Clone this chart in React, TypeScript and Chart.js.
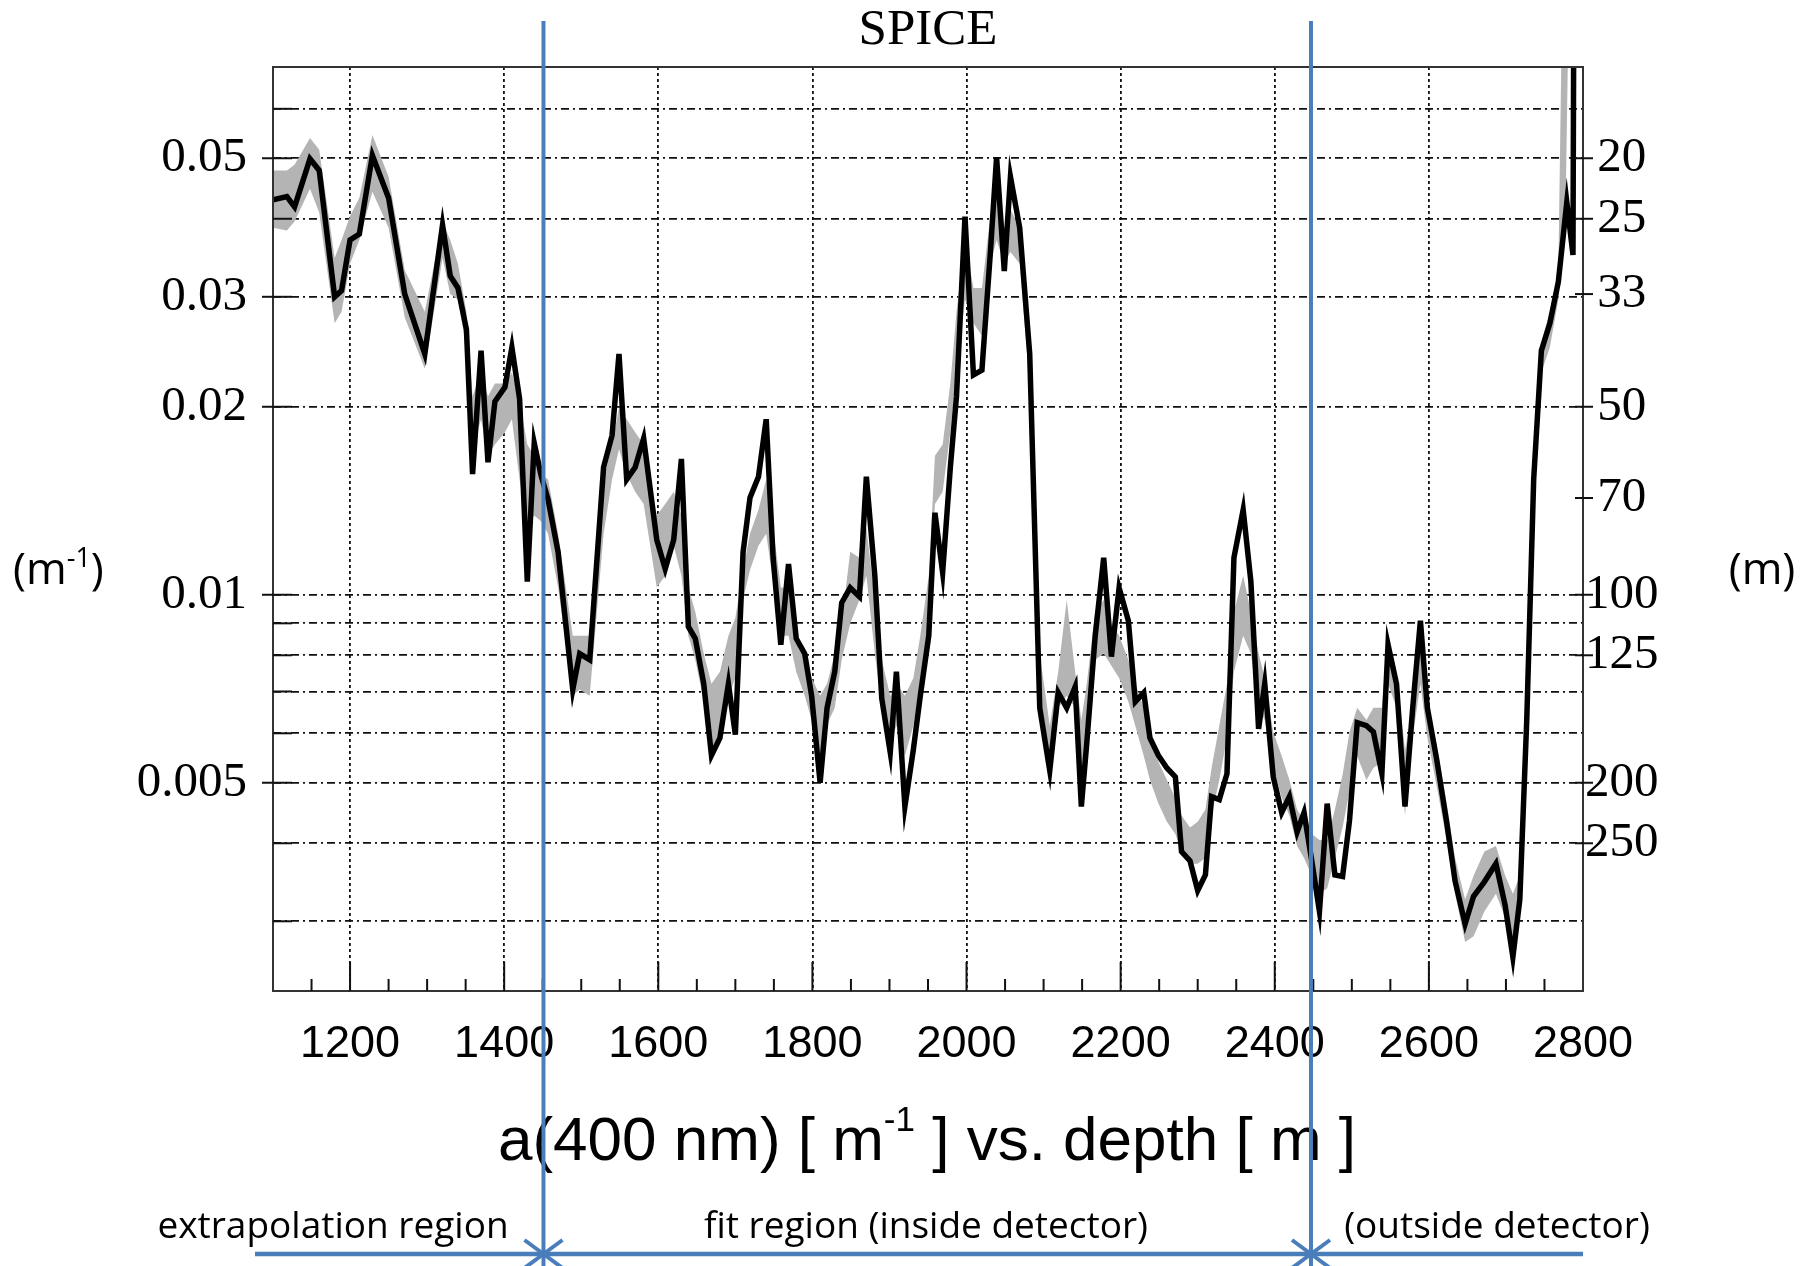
import { useEffect, useRef } from 'react';
import { Chart, registerables } from 'chart.js';

Chart.register(...registerables);

// ---------- data ----------
const depthM = [
  1100, 1118, 1128, 1148, 1160, 1180, 1189, 1200, 1212, 1229,
  1250, 1271, 1297, 1320, 1330, 1340, 1351, 1359, 1370, 1379,
  1388, 1401, 1410, 1420, 1430, 1439, 1448, 1457, 1470, 1489,
  1498, 1511, 1529, 1540, 1549, 1559, 1570, 1581, 1598, 1609,
  1620, 1630, 1639, 1648, 1659, 1669, 1680, 1691, 1700, 1710,
  1719, 1730, 1740, 1749, 1759, 1769, 1779, 1790, 1799, 1810,
  1819, 1829, 1838, 1849, 1861, 1870, 1881, 1890, 1901, 1909,
  1920, 1931, 1940, 1951, 1959, 1969, 1979, 1987, 1998, 2009,
  2020, 2031, 2039, 2049, 2057, 2069, 2082, 2095, 2108, 2119,
  2130, 2141, 2149, 2156, 2167, 2178, 2188, 2198, 2210, 2219,
  2230, 2238, 2249, 2260, 2271, 2279, 2290, 2300, 2310, 2318,
  2328, 2338, 2347, 2359, 2369, 2379, 2387, 2398, 2409, 2419,
  2429, 2438, 2448, 2458, 2468, 2478, 2488, 2497, 2507, 2519,
  2528, 2539, 2547, 2558, 2569, 2579, 2589, 2598, 2610, 2623,
  2634, 2647, 2658, 2672, 2687, 2699, 2709, 2718, 2727, 2736,
  2746, 2757, 2768, 2779, 2787, 2789,
];

const absorption = [
  0.0429, 0.0434, 0.0418, 0.0499, 0.0478, 0.0300, 0.0307, 0.0370, 0.0378, 0.0505,
  0.0432, 0.0303, 0.0243, 0.0391, 0.0324, 0.0310, 0.0266, 0.0156, 0.0246, 0.0163,
  0.0204, 0.0215, 0.0249, 0.0206, 0.0105, 0.0175, 0.0155, 0.0142, 0.0117, 0.00705,
  0.00805, 0.00787, 0.0160, 0.0180, 0.0243, 0.0153, 0.0160, 0.0178, 0.01225, 0.0110,
  0.01225, 0.0165, 0.00889, 0.00851, 0.0072, 0.00553, 0.0059, 0.0072, 0.00597, 0.0117,
  0.0143, 0.01545, 0.0191, 0.01146, 0.00832, 0.0112, 0.00851, 0.00805, 0.00689, 0.0050,
  0.00659, 0.00753, 0.00971, 0.01026, 0.00993, 0.01545, 0.01073, 0.00682, 0.00559, 0.00753,
  0.00458, 0.00565, 0.00689, 0.0086, 0.01353, 0.01085, 0.0160, 0.0208, 0.0403, 0.0225,
  0.0229, 0.0354, 0.0502, 0.0330, 0.0467, 0.0387, 0.0243, 0.00659, 0.00523, 0.00697,
  0.00659, 0.00712, 0.00458, 0.00578, 0.0086, 0.01146, 0.00796, 0.01026, 0.00909, 0.00674,
  0.00697, 0.0059, 0.00553, 0.00528, 0.00511, 0.00388, 0.00375, 0.00336, 0.00356, 0.00475,
  0.0047, 0.00517, 0.01146, 0.01368, 0.0105, 0.0061, 0.0072, 0.00511, 0.00448, 0.00475,
  0.00417, 0.00448, 0.00375, 0.00311, 0.00463, 0.00356, 0.00354, 0.00435, 0.00624, 0.00617,
  0.00603, 0.00517, 0.00832, 0.0072, 0.00458, 0.00659, 0.00909, 0.00659, 0.00546, 0.00433,
  0.00348, 0.00297, 0.00329, 0.00347, 0.00371, 0.00318, 0.00263, 0.00325, 0.0063, 0.0153,
  0.0246, 0.0272, 0.0317, 0.0425, 0.035, 0.2,
];

const bandDepthM = [
  1100, 1118, 1128, 1148, 1160, 1180, 1189, 1200, 1212, 1229,
  1250, 1271, 1297, 1320, 1330, 1340, 1351, 1359, 1370, 1379,
  1388, 1401, 1410, 1420, 1430, 1439, 1448, 1457, 1470, 1489,
  1498, 1511, 1529, 1540, 1549, 1559, 1570, 1581, 1598, 1609,
  1620, 1630, 1639, 1648, 1659, 1669, 1680, 1691, 1700, 1710,
  1719, 1730, 1740, 1749, 1759, 1769, 1779, 1790, 1799, 1810,
  1819, 1829, 1838, 1849, 1861, 1870, 1881, 1890, 1901, 1909,
  1920, 1931, 1940, 1951, 1959, 1969, 1979, 1987, 1998, 2009,
  2020, 2031, 2039, 2049, 2057, 2069, 2082, 2095, 2108, 2119,
  2130, 2141, 2149, 2156, 2167, 2178, 2188, 2198, 2210, 2219,
  2230, 2238, 2249, 2260, 2271, 2279, 2290, 2300, 2310, 2318,
  2328, 2338, 2347, 2359, 2369, 2379, 2387, 2398, 2409, 2419,
  2429, 2438, 2448, 2458, 2468, 2478, 2488, 2497, 2507, 2519,
  2528, 2539, 2547, 2558, 2569, 2579, 2589, 2598, 2610, 2623,
  2634, 2647, 2658, 2672, 2687, 2699, 2709, 2718, 2727, 2736,
  2746, 2757, 2768, 2777, 2786,
];

const bandHigh = [
  0.0478, 0.0478, 0.0488, 0.0539, 0.0516, 0.0346, 0.0370, 0.0404, 0.0432, 0.0545,
  0.0467, 0.0331, 0.0284, 0.0396, 0.0370, 0.0339, 0.0284, 0.0208, 0.0227, 0.0208,
  0.0218, 0.0218, 0.0227, 0.0204, 0.0174, 0.0167, 0.0156, 0.0153, 0.01252, 0.0086,
  0.0086, 0.0086, 0.0153, 0.0174, 0.0199, 0.0191, 0.0182, 0.0174, 0.0134, 0.01398,
  0.01462, 0.0134, 0.01027, 0.00939, 0.00805, 0.0072, 0.00753, 0.0086, 0.00919, 0.01096,
  0.01252, 0.01368, 0.0153, 0.0128, 0.01027, 0.01027, 0.0086, 0.00787, 0.00736, 0.00689,
  0.0072, 0.00805, 0.00899, 0.01172, 0.01146, 0.0128, 0.00982, 0.00787, 0.00689, 0.0072,
  0.00689, 0.00736, 0.0086, 0.01073, 0.0167, 0.0174, 0.0218, 0.0284, 0.0370, 0.031,
  0.031, 0.0404, 0.0462, 0.0387, 0.0414, 0.0387, 0.0249, 0.00805, 0.00617, 0.00753,
  0.00982, 0.00753, 0.0063, 0.0072, 0.00939, 0.00982, 0.00899, 0.0086, 0.00787, 0.0072,
  0.00659, 0.00603, 0.0054, 0.00505, 0.00473, 0.00443, 0.00424, 0.00433, 0.00453, 0.00528,
  0.00617, 0.0072, 0.00939, 0.01073, 0.00939, 0.00805, 0.00736, 0.00603, 0.00552, 0.00505,
  0.00453, 0.00433, 0.00414, 0.00405, 0.00405, 0.00453, 0.00515, 0.00603, 0.00659, 0.0063,
  0.00659, 0.00659, 0.0086, 0.00753, 0.00564, 0.00659, 0.0086, 0.00659, 0.00577, 0.00464,
  0.00379, 0.00325, 0.00355, 0.00388, 0.00396, 0.00355, 0.00332, 0.00355, 0.0066, 0.0160,
  0.0254, 0.0284, 0.0331, 0.2, 0.2,
];

const bandLow = [
  0.0387, 0.0383, 0.0396, 0.0447, 0.0409, 0.0272, 0.0284, 0.0339, 0.0370, 0.0442,
  0.0387, 0.0278, 0.0230, 0.0346, 0.0303, 0.0297, 0.0249, 0.0171, 0.0191, 0.0167,
  0.0174, 0.0182, 0.0191, 0.0153, 0.0128, 0.0134, 0.0131, 0.01252, 0.01027, 0.00689,
  0.00705, 0.00689, 0.01252, 0.0153, 0.0171, 0.0156, 0.01462, 0.01398, 0.01027, 0.01073,
  0.01198, 0.01073, 0.0086, 0.00787, 0.00674, 0.00564, 0.00603, 0.00689, 0.00736, 0.00982,
  0.01096, 0.01198, 0.01252, 0.01049, 0.0086, 0.0086, 0.00753, 0.00689, 0.0063, 0.00552,
  0.0062, 0.00659, 0.00787, 0.00899, 0.00982, 0.01073, 0.00805, 0.00659, 0.00577, 0.00617,
  0.00552, 0.00617, 0.0072, 0.0086, 0.01398, 0.01462, 0.0182, 0.0227, 0.0297, 0.0272,
  0.0260, 0.0339, 0.0370, 0.0339, 0.0354, 0.0339, 0.0215, 0.00689, 0.00552, 0.00659,
  0.00689, 0.00659, 0.00505, 0.0059, 0.00787, 0.00805, 0.0077, 0.00736, 0.00674, 0.00617,
  0.00552, 0.00505, 0.00463, 0.00433, 0.00414, 0.00388, 0.00371, 0.00371, 0.00379, 0.00443,
  0.00505, 0.0059, 0.00753, 0.0086, 0.00805, 0.00659, 0.0063, 0.00528, 0.00473, 0.00443,
  0.00396, 0.00379, 0.00355, 0.00332, 0.00339, 0.00379, 0.00424, 0.00484, 0.00552, 0.00505,
  0.00528, 0.0054, 0.0072, 0.00659, 0.00443, 0.0059, 0.0072, 0.0059, 0.00495, 0.00405,
  0.00332, 0.00278, 0.00284, 0.00311, 0.00332, 0.00304, 0.00284, 0.00311, 0.00577, 0.01398,
  0.0227, 0.0249, 0.0297, 0.0387, 0.2,
];

// ---------- axes / ticks ----------
const xMin = 1100;
const xMax = 2800;
const xTickValues = [1200, 1400, 1600, 1800, 2000, 2200, 2400, 2600, 2800];
const xMinorStep = 50;
const yMin = 0.00232;
const yMax = 0.07;
const leftGridValues = [0.003, 0.004, 0.005, 0.006, 0.007, 0.008, 0.009, 0.01, 0.02, 0.03, 0.04, 0.05, 0.06];
const leftLabeled = [0.005, 0.01, 0.02, 0.03, 0.05];
const rightAbsLengths = [20, 25, 33, 50, 70, 100, 125, 200, 250];
const regionBounds = [1451, 2447];
const regionLabels = ['extrapolation region', 'fit region (inside detector)', '(outside detector)'];

const BLUE = '#4a7ebb';
const SERIF = "'Liberation Serif', 'Times New Roman', serif";
const SANS = "'Liberation Sans', Arial, sans-serif";
const CAL = "'Open Sans', 'Noto Sans', sans-serif";

type Seg = { t: string; font: string; dy: number };

function drawSegs(ctx: CanvasRenderingContext2D, segs: Seg[], x0: number, baseline: number, align: 'center' | 'left') {
  let total = 0;
  segs.forEach((s) => {
    ctx.font = s.font;
    total += ctx.measureText(s.t).width;
  });
  let x = align === 'center' ? x0 - total / 2 : x0;
  ctx.textAlign = 'left';
  ctx.textBaseline = 'alphabetic';
  segs.forEach((s) => {
    ctx.font = s.font;
    ctx.fillText(s.t, x, baseline + s.dy);
    x += ctx.measureText(s.t).width;
  });
}

const overlayPlugin = {
  id: 'overlay',
  afterDraw(chart: any) {
    const ctx: CanvasRenderingContext2D = chart.ctx;
    const a = chart.chartArea;
    const xs = chart.scales.x;
    const yl = chart.scales.y;
    const yr = chart.scales.y2;
    const line = (x1: number, y1: number, x2: number, y2: number) => {
      ctx.beginPath();
      ctx.moveTo(x1, y1);
      ctx.lineTo(x2, y2);
      ctx.stroke();
    };
    ctx.save();
    ctx.setLineDash([]);
    // frame
    ctx.strokeStyle = '#333';
    ctx.lineWidth = 2;
    ctx.strokeRect(a.left, a.top, a.right - a.left, a.bottom - a.top);
    // tick marks
    ctx.strokeStyle = '#111';
    ctx.lineWidth = 2;
    leftGridValues.forEach((v) => {
      const y = yl.getPixelForValue(v);
      const lab = leftLabeled.includes(v);
      line(a.left - (lab ? 11 : 0), y, a.left + 19, y);
    });
    rightAbsLengths.forEach((m) => {
      const y = yr.getPixelForValue(1 / m);
      line(a.right - 8, y, a.right + 10, y);
    });
    for (let d = xMin + xMinorStep; d < xMax; d += xMinorStep) {
      const x = xs.getPixelForValue(d);
      const major = xTickValues.includes(d);
      line(x, a.bottom, x, a.bottom - (major ? 29 : 12));
    }
    // texts
    ctx.fillStyle = '#000';
    drawSegs(ctx, [
      { t: 'a(400 nm) [ m', font: `62px ${SANS}`, dy: 0 },
      { t: '-1', font: `35px ${SANS}`, dy: -29 },
      { t: ' ] vs. depth [ m ]', font: `62px ${SANS}`, dy: 0 },
    ], 927, 1160, 'center');
    drawSegs(ctx, [
      { t: '(m', font: `44px ${CAL}`, dy: 0 },
      { t: '-1', font: `27px ${CAL}`, dy: -17 },
      { t: ')', font: `44px ${CAL}`, dy: 0 },
    ], 13, 584, 'left');
    drawSegs(ctx, [{ t: '(m)', font: `44px ${CAL}`, dy: 0 }], 1762, 584, 'center');
    const labelCenters = [333, 926, 1497];
    regionLabels.forEach((t, i) => {
      drawSegs(ctx, [{ t, font: `37px ${CAL}`, dy: 0 }], labelCenters[i], 1238, 'center');
    });
    // blue region markers
    ctx.strokeStyle = BLUE;
    ctx.lineWidth = 4;
    const bx = regionBounds.map((d) => xs.getPixelForValue(d));
    bx.forEach((x) => line(x, 21, x, chart.height));
    const ay = 1254;
    ctx.lineWidth = 4.5;
    line(a.left - 18, ay, a.right, ay);
    const head = (x: number, dir: number) => {
      line(x - dir * 19, ay - 14, x, ay);
      line(x - dir * 19, ay + 14, x, ay);
    };
    ctx.lineWidth = 4;
    bx.forEach((x) => {
      head(x, 1);
      head(x, -1);
    });
    ctx.restore();
  },
};

export default function App() {
  const canvasRef = useRef<HTMLCanvasElement | null>(null);

  useEffect(() => {
    const canvas = canvasRef.current;
    if (!canvas) return;
    const chart = new Chart(canvas, {
      type: 'line',
      data: {
        datasets: [
          {
            label: 'a(400 nm)',
            data: depthM.map((d, i) => ({ x: d, y: absorption[i] })),
            borderColor: '#000',
            borderWidth: 5.5,
            pointRadius: 0,
            fill: false,
            tension: 0,
            clip: 0,
          },
          {
            label: 'band high',
            data: bandDepthM.map((d, i) => ({ x: d, y: bandHigh[i] })),
            borderWidth: 0,
            borderColor: 'rgba(0,0,0,0)',
            backgroundColor: 'rgb(180,180,180)',
            pointRadius: 0,
            fill: '+1',
            tension: 0,
            clip: 0,
          },
          {
            label: 'band low',
            data: bandDepthM.map((d, i) => ({ x: d, y: bandLow[i] })),
            borderWidth: 0,
            borderColor: 'rgba(0,0,0,0)',
            pointRadius: 0,
            fill: false,
            tension: 0,
            clip: 0,
          },
        ],
      },
      options: {
        animation: false,
        responsive: false,
        devicePixelRatio: 1,
        layout: { padding: 0 },
        events: [],
        plugins: {
          legend: { display: false },
          tooltip: { enabled: false },
          title: {
            display: true,
            text: 'SPICE',
            fullSize: false,
            color: '#000',
            font: { family: SERIF, size: 51, weight: 'normal', lineHeight: 1.2 },
            padding: { top: 0, bottom: 5.8 },
          },
        },
        scales: {
          x: {
            type: 'linear',
            min: xMin,
            max: xMax,
            afterBuildTicks: (s: any) => {
              s.ticks = xTickValues.map((v) => ({ value: v }));
            },
            afterFit: (s: any) => {
              s.height = 275;
            },
            ticks: {
              autoSkip: false,
              maxRotation: 0,
              padding: 27,
              color: '#000',
              font: { family: SANS, size: 45 },
              callback: (v: any) => String(v),
            },
            grid: { color: '#111', lineWidth: 1.8, drawTicks: false },
            border: { display: false, dash: [3, 3] },
          },
          y: {
            type: 'logarithmic',
            position: 'left',
            min: yMin,
            max: yMax,
            afterBuildTicks: (s: any) => {
              s.ticks = leftGridValues.map((v) => ({ value: v }));
            },
            afterFit: (s: any) => {
              s.width = 273;
            },
            ticks: {
              autoSkip: false,
              padding: 26,
              color: '#000',
              font: { family: SERIF, size: 49 },
              callback: (v: any) => (leftLabeled.includes(v) ? String(v) : ''),
            },
            grid: { color: '#111', lineWidth: 1.8, drawTicks: false },
            border: { display: false, dash: [8, 4, 2, 4] },
          },
          y2: {
            type: 'logarithmic',
            position: 'right',
            min: yMin,
            max: yMax,
            afterBuildTicks: (s: any) => {
              s.ticks = rightAbsLengths.map((m) => ({ value: 1 / m }));
            },
            afterFit: (s: any) => {
              s.width = 217;
            },
            ticks: {
              autoSkip: false,
              padding: 2,
              crossAlign: 'center',
              color: '#000',
              font: { family: SERIF, size: 49 },
              callback: (v: any) => String(Math.round(1 / v)),
            },
            grid: { display: false, drawTicks: false },
            border: { display: false },
          },
        },
      } as any,
      plugins: [overlayPlugin],
    });
    return () => chart.destroy();
  }, []);

  return (
    <div style={{ position: 'fixed', left: 0, top: 0, width: 1800, height: 1266, background: '#fff' }}>
      <canvas ref={canvasRef} width={1800} height={1266} style={{ display: 'block', width: 1800, height: 1266 }} />
    </div>
  );
}
